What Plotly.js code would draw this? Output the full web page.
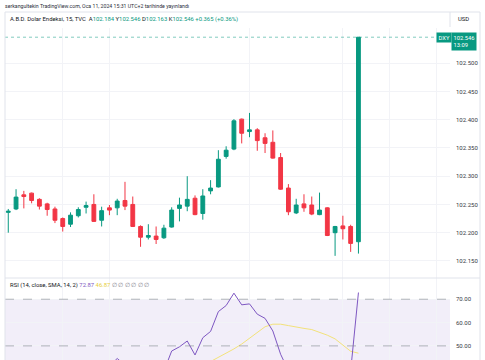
<!DOCTYPE html>
<html>
<head>
<meta charset="utf-8">
<script src="https://cdn.plot.ly/plotly-3.0.1.min.js"></script>
<style>html,body{margin:0;padding:0;background:#fff;}#chart{width:485px;height:360px;}</style>
</head>
<body>
<div id="chart"></div>
<script>
// ---- data ----
const times = [
 "2024-01-11 04:15","2024-01-11 04:30","2024-01-11 04:45","2024-01-11 05:00","2024-01-11 05:15","2024-01-11 05:30",
 "2024-01-11 05:45","2024-01-11 06:00","2024-01-11 06:15","2024-01-11 06:30","2024-01-11 06:45","2024-01-11 07:00",
 "2024-01-11 07:15","2024-01-11 07:30","2024-01-11 07:45","2024-01-11 08:00","2024-01-11 08:15","2024-01-11 08:30",
 "2024-01-11 08:45","2024-01-11 09:00","2024-01-11 09:15","2024-01-11 09:30","2024-01-11 09:45","2024-01-11 10:00",
 "2024-01-11 10:15","2024-01-11 10:30","2024-01-11 10:45","2024-01-11 11:00","2024-01-11 11:15","2024-01-11 11:30",
 "2024-01-11 11:45","2024-01-11 12:00","2024-01-11 12:15","2024-01-11 12:30","2024-01-11 12:45","2024-01-11 13:00",
 "2024-01-11 13:15","2024-01-11 13:30","2024-01-11 13:45","2024-01-11 14:00","2024-01-11 14:15","2024-01-11 14:30",
 "2024-01-11 14:45","2024-01-11 15:00","2024-01-11 15:15","2024-01-11 15:30"];
const opens  = [102.236,102.242,102.267,102.270,102.259,102.251,102.242,102.225,102.215,102.230,102.245,102.250,
                102.222,102.244,102.244,102.257,102.250,102.211,102.192,102.194,102.191,102.210,102.243,102.247,
                102.261,102.234,102.274,102.281,102.335,102.348,102.401,102.379,102.382,102.368,102.360,102.333,
                102.279,102.235,102.251,102.249,102.232,102.244,102.200,102.212,102.211,102.184];
const highs  = [102.242,102.277,102.274,102.271,102.261,102.253,102.246,102.227,102.236,102.245,102.255,102.268,
                102.246,102.249,102.260,102.290,102.264,102.213,102.215,102.211,102.214,102.245,102.262,102.300,
                102.266,102.277,102.293,102.346,102.353,102.401,102.402,102.412,102.385,102.376,102.381,102.341,
                102.286,102.260,102.268,102.264,102.271,102.245,102.212,102.230,102.214,102.546];
const lows   = [102.200,102.240,102.243,102.252,102.241,102.230,102.217,102.202,102.210,102.227,102.234,102.219,
                102.211,102.231,102.231,102.240,102.210,102.175,102.188,102.180,102.189,102.209,102.220,102.238,
                102.231,102.223,102.268,102.280,102.331,102.346,102.358,102.369,102.345,102.341,102.331,102.276,
                102.231,102.233,102.237,102.231,102.231,102.194,102.159,102.188,102.166,102.163];
const closes = [102.238,102.263,102.264,102.257,102.247,102.241,102.222,102.211,102.231,102.241,102.248,102.220,
                102.239,102.240,102.256,102.247,102.211,102.192,102.195,102.188,102.208,102.240,102.249,102.259,
                102.232,102.265,102.279,102.330,102.346,102.398,102.376,102.382,102.363,102.358,102.332,102.277,
                102.237,102.249,102.244,102.233,102.240,102.195,102.211,102.207,102.181,102.546];
const rsi = [41.5,43.2,42.8,41.9,40.6,39.8,37.5,36.2,39.4,41.0,42.1,38.3,41.2,41.3,44.6,41.8,38.1,35.5,36.2,35.6,
             39.2,47.8,49.6,52.1,46.1,53.5,56.2,64.7,67.3,72.6,67.6,68.0,63.6,61.8,56.4,46.4,39.4,42.3,41.6,39.8,
             41.0,35.1,39.0,38.6,39.3,72.87];
const rsiSma = [41.8,41.7,41.6,41.5,41.4,41.2,41.0,40.7,40.5,40.4,40.4,40.3,40.2,40.3,40.4,40.5,40.3,40.0,39.8,39.6,
                39.6,40.1,40.6,41.4,41.7,42.4,43.3,45.0,46.8,48.7,50.8,53.4,55.8,58.2,59.3,59.3,58.7,58.0,57.5,57.0,
                55.9,54.6,53.0,50.4,47.7,46.87];
const priceTicks = [102.15,102.20,102.25,102.30,102.35,102.40,102.45,102.50];
const rsiTicks = [50,60,70];
const gridTimes = ["2024-01-11 06:00","2024-01-11 07:30","2024-01-11 12:00","2024-01-11 15:00","2024-01-11 16:30","2024-01-11 18:00"];
const symbolName = "A.B.D. Dolar Endeksi, 15, TVC";
const publishText = "serkangultekin TradingView.com, Oca 11, 2024 15:31 UTC+2 tarihinde yayınlandı";
const countdown = "13:09";

// ---- styling / layout helpers ----
const GREEN = "#089981", RED = "#f23645", PURPLE = "#7e57c2", YELLOW = "#f3e27a", TXT = "#131722";
const FONT = "Roboto, 'Noto Sans', sans-serif";
const W = 485, H = 360, ML = 5, MR = 35, MT = 28, MB = 0;
const PW = W - ML - MR, PH = H - MT - MB;
const px = x => (x - ML) / PW;
const py = y => (H - MB - y) / PH;
const paneSplit = py(278);

const n = closes.length;
const last = closes[n - 1], prev = closes[n - 2];
const chg = last - prev, chgPct = chg / prev * 100;
const g = s => `<span style="color:${GREEN}">${s}</span>`;
const headerText = `${symbolName}  A${g(opens[n-1].toFixed(3))} Y${g(highs[n-1].toFixed(3))} D${g(lows[n-1].toFixed(3))} K${g(last.toFixed(3))} ${g((chg>=0?'+':'')+chg.toFixed(3)+' ('+(chg>=0?'+':'')+chgPct.toFixed(2)+'%)')}`;
const rsiLabel = `RSI (14, close, SMA, 14, 2) <span style="color:${PURPLE}">${rsi[n-1].toFixed(2)}</span> <span style="color:#e6cf3c">${rsiSma[n-1].toFixed(2)}</span> <span style="color:#787b86">∅ ∅ ∅ ∅ ∅ ∅</span>`;

const traces = [
  {type:"candlestick", x:times, open:opens, high:highs, low:lows, close:closes, xaxis:"x", yaxis:"y",
   increasing:{line:{color:GREEN,width:1}, fillcolor:GREEN},
   decreasing:{line:{color:RED,width:1}, fillcolor:RED},
   whiskerwidth:0, hoverinfo:"skip", showlegend:false},
  {type:"scatter", mode:"lines", x:times, y:rsiSma, xaxis:"x2", yaxis:"y2",
   line:{color:YELLOW,width:1}, hoverinfo:"skip", showlegend:false},
  {type:"scatter", mode:"lines", x:times, y:rsi, xaxis:"x2", yaxis:"y2",
   line:{color:PURPLE,width:1}, hoverinfo:"skip", showlegend:false}
];

const xCommon = {type:"date", range:["2024-01-11 04:08:42","2024-01-11 18:26:30"], tickvals:gridTimes,
  showticklabels:false, ticks:"", showgrid:true, gridcolor:"#f2f3f7", zeroline:false, showline:false,
  rangeslider:{visible:false}, fixedrange:true};

const layout = {
  width:W, height:H, margin:{l:ML, r:MR, t:MT, b:MB},
  paper_bgcolor:"#fff", plot_bgcolor:"#fff", showlegend:false,
  font:{family:FONT, size:6, color:TXT},
  xaxis: Object.assign({}, xCommon, {anchor:"y"}),
  xaxis2: Object.assign({}, xCommon, {anchor:"y2", matches:"x"}),
  yaxis: {domain:[paneSplit,1], side:"right", range:[102.1198,102.5623], tickvals:priceTicks,
    ticktext:priceTicks.map(v=>v.toFixed(3)), ticks:"", ticklabelstandoff:5, showgrid:true, gridcolor:"#f2f3f7",
    zeroline:false, showline:false, tickfont:{size:6, color:"#363a45", family:FONT}, fixedrange:true},
  yaxis2: {domain:[0,paneSplit], side:"right", range:[43.95,79.1], tickvals:rsiTicks,
    ticktext:rsiTicks.map(v=>v.toFixed(2)), ticks:"", ticklabelstandoff:5, showgrid:true, gridcolor:"#f2f3f7",
    zeroline:false, showline:false, tickfont:{size:6, color:"#363a45", family:FONT}, fixedrange:true},
  shapes: [
    // RSI band
    {type:"rect", xref:"paper", yref:"y2", x0:0, x1:1, y0:30, y1:70, fillcolor:"rgba(126,87,194,0.1)", line:{width:0}, layer:"below"},
    {type:"line", xref:"paper", yref:"y2", x0:0, x1:1, y0:70, y1:70, line:{color:"rgba(120,123,134,0.55)", width:1, dash:"dash"}},
    {type:"line", xref:"paper", yref:"y2", x0:0, x1:1, y0:50, y1:50, line:{color:"rgba(120,123,134,0.55)", width:1, dash:"dash"}},
    // last price line
    {type:"line", xref:"paper", yref:"y", x0:0, x1:px(436), y0:last, y1:last, line:{color:"rgba(8,153,129,0.5)", width:1, dash:"dot"}},
    // frame
    {type:"line", xref:"paper", yref:"paper", x0:px(5), x1:px(480), y0:py(12), y1:py(12), line:{color:"#e0e3eb", width:1}},
    {type:"line", xref:"paper", yref:"paper", x0:px(5), x1:px(5), y0:py(12), y1:py(360), line:{color:"#e0e3eb", width:1}},
    {type:"line", xref:"paper", yref:"paper", x0:px(480), x1:px(480), y0:py(12), y1:py(360), line:{color:"#e0e3eb", width:1}},
    {type:"line", xref:"paper", yref:"paper", x0:px(450), x1:px(450), y0:py(12), y1:py(27), line:{color:"#e0e3eb", width:1}},
    {type:"line", xref:"paper", yref:"paper", x0:px(5), x1:px(480), y0:paneSplit, y1:paneSplit, line:{color:"#e0e3eb", width:1}}
  ],
  annotations: [
    {xref:"paper", yref:"paper", x:px(3), y:py(6), xanchor:"left", yanchor:"middle", showarrow:false,
     text:publishText, font:{size:5.2, color:"#2a2e39", family:FONT}},
    {xref:"paper", yref:"paper", x:px(8), y:py(19), xanchor:"left", yanchor:"middle", showarrow:false,
     text:headerText, font:{size:5.9, color:TXT, family:FONT}},
    {xref:"paper", yref:"paper", x:px(456), y:py(19), xanchor:"left", yanchor:"middle", showarrow:false,
     text:"USD", font:{size:5.9, color:TXT, family:FONT}},
    {xref:"paper", yref:"paper", x:px(8), y:py(285.5), xanchor:"left", yanchor:"middle", showarrow:false,
     text:rsiLabel, font:{size:5.9, color:TXT, family:FONT}},
    {xref:"paper", yref:"y", x:px(436), y:last, xanchor:"left", yanchor:"middle", showarrow:false,
     text:"DXY", bgcolor:GREEN, borderpad:1.5, font:{size:5.8, color:"#fff", family:FONT}},
    {xref:"paper", yref:"y", x:px(451), y:last, xanchor:"left", yanchor:"top", yshift:5.5, showarrow:false, align:"left",
     text:last.toFixed(3)+"<br>"+countdown, bgcolor:GREEN, borderpad:1.5, font:{size:5.8, color:"#fff", family:FONT}}
  ]
};

Plotly.newPlot("chart", traces, layout, {staticPlot:true, displayModeBar:false});
</script>
</body>
</html>
